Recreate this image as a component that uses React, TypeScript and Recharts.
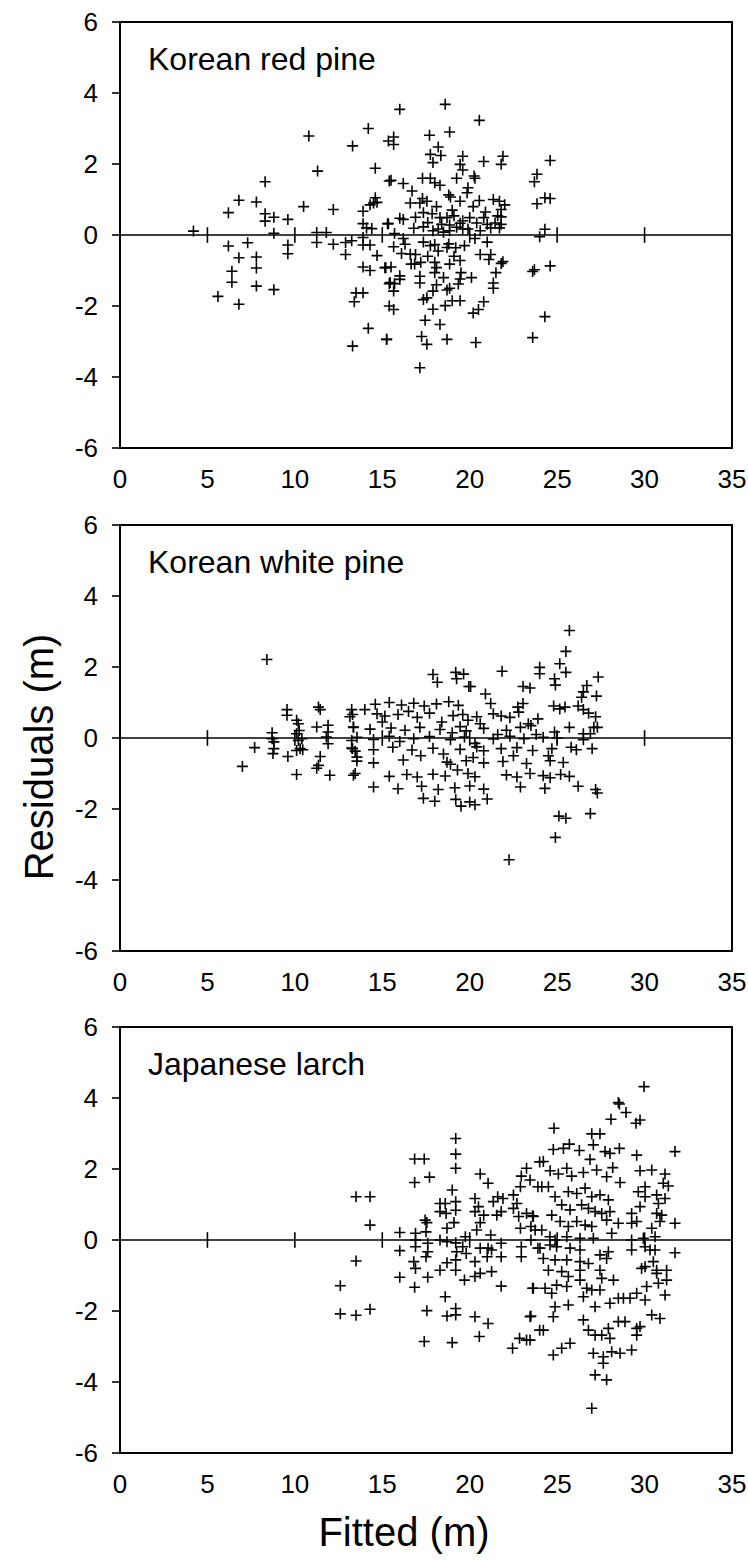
import React from 'react';
import {
  ScatterChart,
  Scatter,
  XAxis,
  YAxis,
  ReferenceLine,
  ReferenceArea,
} from 'recharts';

// residuals vs fitted heights
const redPine: [number, number][] = [
  [4.2, 0.11], [6.2, 0.63], [6.8, 0.98], [7.8, 0.93], [8.3, 1.5], [8.3, 0.6], [8.3, 0.39], [8.8, 0.5],
  [9.6, 0.44], [8.8, 0.05], [10.5, 0.8], [10.8, 2.79], [11.3, 1.8], [12.2, 0.72], [11.25, 0.07], [11.8, 0.07],
  [13.3, 2.51], [14.2, 3.0], [14.6, 1.88], [14.6, 1.05], [14.5, 0.9], [14.3, 0.85], [14.7, 0.92], [13.9, 0.67],
  [13.9, 0.32], [14.1, 0.2], [14.4, 0.18], [15.35, 2.65], [15.4, 1.52], [15.3, 0.32],
  [6.2, -0.31], [7.3, -0.22], [6.8, -0.64], [7.8, -0.62], [7.8, -0.93], [6.4, -1.02], [6.4, -1.33], [7.8, -1.44],
  [8.8, -1.54], [5.6, -1.73], [6.8, -1.95], [9.6, -0.28], [9.6, -0.53], [11.25, -0.21], [12.2, -0.26], [12.9, -0.21],
  [13.25, -0.16], [12.9, -0.55], [13.9, -0.07], [13.9, -0.28], [14.3, -0.28], [14.7, -0.58], [13.9, -0.9], [14.3, -1.0],
  [15.2, -0.92], [13.5, -1.63], [13.9, -1.63], [13.4, -1.88], [14.2, -2.63], [13.3, -3.13], [15.25, -2.94], [15.4, -1.37],
  [15.4, -2.0],
  [16.0, 3.54], [18.6, 3.68], [20.55, 3.23], [18.85, 2.9], [17.7, 2.81], [15.65, 2.76], [15.65, 2.55], [18.2, 2.48],
  [17.75, 2.27], [18.35, 2.24], [17.9, 2.04], [19.6, 2.22], [19.45, 1.99], [19.6, 1.83], [20.8, 2.07], [21.9, 2.22],
  [21.8, 1.99], [24.6, 2.1], [23.85, 1.71], [23.7, 1.5], [24.3, 1.05], [24.6, 1.03], [23.85, 0.88],
  [15.5, 1.54], [16.2, 1.45], [16.7, 1.24], [17.3, 1.6], [17.75, 1.6], [18.0, 1.47], [18.3, 1.4], [19.25, 1.6],
  [20.25, 1.66], [20.3, 1.6], [19.9, 1.33], [19.85, 1.19], [18.8, 1.13], [18.9, 1.07], [17.3, 1.03], [17.55, 0.95],
  [17.15, 0.9], [19.45, 0.95], [20.55, 0.97], [21.35, 1.0], [21.7, 0.95], [21.8, 0.72], [21.6, 0.54], [21.8, 0.51],
  [17.35, 0.63], [17.85, 0.6], [16.0, 0.47], [16.2, 0.44], [15.35, 0.32], [16.8, 0.19], [17.35, 0.23], [18.3, 0.49],
  [18.7, 0.49], [19.1, 0.54], [18.4, 0.3], [18.85, 0.28], [19.45, 0.33], [17.9, 0.12], [18.2, 0.17], [18.5, 0.08],
  [18.85, 0.12], [19.25, 0.22], [19.6, 0.17], [20.0, 0.49], [20.4, 0.34], [20.8, 0.49], [21.0, 0.3], [21.45, 0.34],
  [19.9, 0.17], [20.6, 0.12], [21.2, 0.2], [21.8, 0.3], [24.3, 0.16], [24.0, -0.05], [15.7, 0.04], [16.2, -0.1],
  [15.65, -0.33], [16.3, -0.26], [16.1, -0.52], [16.6, -0.54], [17.35, -0.2], [17.75, -0.3], [18.0, -0.27], [18.2, -0.45],
  [18.7, -0.35], [16.9, -0.55], [16.85, -0.82], [16.65, -0.82], [17.2, -0.77], [18.0, -0.77], [18.1, -0.92], [18.0, -1.06],
  [18.85, -0.82], [19.45, -0.72], [19.5, -1.06], [19.45, -1.24], [18.8, -0.25], [19.2, -0.36], [19.7, -0.3], [20.6, -0.55],
  [21.2, -0.55], [21.1, -0.69], [15.15, -0.92], [15.5, -0.9], [15.45, -1.34], [15.7, -1.37], [16.0, -1.25], [15.65, -1.58],
  [16.0, -1.15], [17.15, -1.16], [17.15, -1.35], [18.1, -1.4], [18.7, -1.55], [18.85, -1.5], [17.9, -1.58], [17.55, -1.77],
  [17.35, -1.82], [19.35, -1.38], [19.0, -1.85], [19.45, -1.85], [18.6, -1.99], [17.9, -2.09], [21.35, -1.35], [21.35, -1.5],
  [21.8, -0.8], [21.5, -1.06], [21.9, -0.75], [20.8, -1.88], [20.5, -2.1], [20.2, -2.2], [23.7, -0.98], [23.6, -1.03],
  [24.6, -0.87], [15.65, -2.1], [17.45, -2.4], [18.3, -2.52], [15.25, -2.94], [17.25, -2.86], [17.55, -3.08], [18.7, -2.94],
  [20.35, -3.03], [23.6, -2.89], [24.3, -2.3], [17.15, -3.74],
  [19.0, 0.7], [20.2, 0.8], [20.9, 0.65], [19.6, 0.4], [18.1, 0.8], [17.6, 0.35], [20.3, -0.1], [21.0, -0.2],
  [19.1, -0.6], [17.6, -0.6], [20.1, -1.2], [21.7, 0.2], [22.0, 0.85], [16.6, 0.9], [16.9, 0.5], [18.5, -1.2],
];

const whitePine: [number, number][] = [
  [8.4, 2.21], [7.0, -0.8], [7.7, -0.27], [8.7, 0.15], [8.7, -0.02], [8.8, -0.11], [8.8, -0.3], [8.75, -0.44],
  [9.55, 0.8], [9.55, 0.64], [9.6, -0.52], [10.1, 0.5], [10.2, 0.4], [10.25, 0.21], [10.1, 0.12], [10.2, -0.07],
  [10.3, -0.3], [10.1, -0.35], [10.4, -0.02], [10.45, -0.33], [10.1, -1.03], [11.35, 0.87], [11.45, 0.8], [11.25, 0.31],
  [11.9, 0.36], [11.9, 0.17], [11.8, 0.03], [11.9, -0.16], [11.45, -0.52], [11.35, -0.77], [11.25, -0.85], [12.0, -1.05],
  [13.25, 0.8], [13.3, 0.66], [13.35, 0.31], [13.25, -0.07], [13.3, -0.3], [13.45, -0.37], [13.55, -0.54], [13.35, -1.05],
  [25.7, 3.03], [25.5, 2.44], [25.15, 2.09], [25.5, 1.85], [24.0, 1.99], [24.0, 1.81], [21.85, 1.88], [24.85, 1.67],
  [24.9, 1.49], [27.35, 1.72], [27.25, 1.18], [26.7, 1.48], [26.5, 1.3], [26.4, 1.15], [17.9, 1.79], [18.15, 1.57],
  [19.2, 1.85], [19.65, 1.8], [19.25, 1.67], [19.95, 1.45], [20.05, 1.45], [23.05, 1.45], [23.45, 1.41], [20.9, 1.24],
  [24.8, 0.9], [25.15, 0.82], [25.45, 0.87], [26.2, 0.9], [26.5, 0.8], [22.75, 0.87], [22.8, 0.73], [23.05, 0.97],
  [23.9, 0.54], [23.35, 0.4], [23.5, 0.35], [25.7, 0.3], [26.5, 0.12], [26.9, 0.12], [27.1, 0.3], [27.3, 0.3],
  [24.85, 0.17], [25.1, -2.2], [25.5, -2.26], [26.9, -2.13], [24.9, -2.8], [22.25, -3.43], [27.3, -1.55],
  [14.6, 0.95], [15.4, 1.0], [16.1, 0.93], [16.8, 0.98], [17.4, 0.9], [18.1, 0.96], [18.8, 1.02], [19.35, 0.92], [21.2, 0.97],
  [13.15, 0.6], [14.7, 0.68], [15.15, 0.62], [15.9, 0.66], [17.0, 0.58], [17.7, 0.7], [19.05, 0.63], [19.6, 0.66],
  [20.4, 0.6], [21.35, 0.68], [21.8, 0.62], [22.3, 0.58],
  [13.35, 0.3], [14.3, 0.25], [15.5, 0.28], [16.3, 0.22], [17.15, 0.3], [18.3, 0.24], [19.45, 0.32], [19.8, 0.2],
  [20.8, 0.27], [22.1, 0.22], [22.9, 0.3],
  [13.55, 0.02], [14.5, -0.04], [15.4, 0.05], [16.8, -0.02], [17.7, 0.04], [18.9, -0.05], [19.7, 0.03], [21.35, -0.03],
  [22.3, 0.05], [23.1, -0.02], [24.2, 0.02],
  [13.25, -0.28], [14.5, -0.33], [15.6, -0.26], [16.7, -0.34], [17.9, -0.29], [19.45, -0.32], [20.4, -0.25], [20.8, -0.36],
  [21.8, -0.3], [22.7, -0.27], [23.6, -0.35], [24.7, -0.3], [25.8, -0.26], [26.1, -0.33],
  [13.55, -0.65], [14.5, -0.7], [16.2, -0.62], [18.7, -0.68], [18.9, -0.74], [19.8, -0.64], [20.8, -0.7], [21.9, -0.66],
  [23.25, -0.72], [24.6, -0.64], [25.35, -0.69],
  [13.45, -1.0], [15.4, -1.08], [16.4, -1.03], [17.0, -1.1], [17.9, -1.02], [18.6, -1.07], [19.9, -1.0], [20.3, -1.09],
  [22.1, -1.04], [22.7, -1.1], [23.45, -1.0], [24.2, -1.06], [24.6, -1.12], [25.2, -1.03], [25.7, -1.08],
  [14.5, -1.38], [15.9, -1.43], [17.25, -1.36], [18.2, -1.45], [19.15, -1.4], [20.0, -1.35], [20.8, -1.44], [22.9, -1.38],
  [24.3, -1.42], [26.2, -1.36], [27.2, -1.45],
  [17.35, -1.7], [18.0, -1.78], [19.2, -1.73], [20.0, -1.8], [21.0, -1.72], [19.5, -1.92], [20.3, -1.88],
  [18.4, 0.45], [19.0, 0.15], [19.9, 0.5], [20.3, -0.15], [20.6, 0.4], [21.6, 0.1], [17.2, -0.5], [16.0, -0.1],
  [15.0, 0.45], [18.5, -0.45], [19.3, -0.9], [20.2, -0.55], [14.0, 0.8], [16.5, 0.75], [22.5, -0.5], [23.8, 0.1],
  [25.0, 0.0], [24.5, -0.5], [26.5, -0.05], [27.0, -0.3], [27.2, 0.6], [26.8, 0.7],
];

const larch: [number, number][] = [
  [19.2, 2.86], [19.2, 2.42], [19.2, 2.02], [16.85, 2.28], [17.4, 2.28], [16.85, 1.62], [17.7, 1.77], [13.5, 1.22],
  [14.3, 1.22], [14.3, 0.42], [13.5, -0.59], [12.6, -1.29], [12.6, -2.08], [13.5, -2.12], [14.3, -1.95],
  [16.0, 0.21], [16.0, -0.3], [16.9, 0.19], [16.9, 0.0], [16.9, -0.19], [16.8, -0.61], [16.9, -0.8], [16.0, -1.05],
  [16.85, -1.33], [17.45, 0.56], [17.55, 0.49], [17.5, 0.23], [17.6, -0.09], [17.6, -0.33], [17.5, -0.47], [17.6, -1.05],
  [17.55, -1.99], [17.4, -2.86], [18.3, 1.03], [18.6, 1.03], [18.3, 0.8], [18.65, 0.75], [19.0, 1.41], [19.2, 1.08],
  [19.2, 0.84], [18.7, 0.33], [19.1, 0.49], [18.3, 0.0], [18.7, -0.05], [19.2, -0.08], [19.75, 0.09], [19.6, -0.19],
  [19.25, -0.33], [19.8, -0.38], [18.7, -0.64], [19.2, -0.56], [19.2, -0.85], [18.3, -0.85], [19.7, -1.13], [18.6, -1.6],
  [18.7, -2.14], [19.2, -1.93], [19.2, -2.11], [19.0, -2.89], [20.3, 1.17], [20.5, 0.94], [20.3, 0.8], [20.4, 0.28],
  [20.6, 0.49], [20.8, 0.7], [20.6, 1.86], [21.05, 1.6], [20.3, -0.61], [20.6, -0.94], [20.3, -1.03], [21.25, -0.89],
  [21.8, -1.3], [20.3, -2.16], [21.05, -2.35], [20.55, -2.72], [21.2, 0.14], [21.8, -0.09], [21.05, -0.23], [21.25, -0.28],
  [21.8, -0.47], [20.6, -0.23], [21.0, -0.47], [21.35, 1.08], [21.6, 1.22], [21.9, 1.17], [21.8, 0.8], [21.55, 0.7],
  [22.5, 1.27], [22.7, 1.03], [22.5, 0.89], [22.8, 0.66], [23.25, 0.75], [23.6, 0.68], [23.5, 0.38], [22.9, 0.33],
  [23.25, 2.02], [22.95, 1.8], [23.45, 1.69], [22.9, 1.5], [23.9, 1.5], [24.0, 2.2], [22.95, -0.19], [22.95, -0.47],
  [23.5, 0.0], [23.9, -0.23], [23.6, -1.36], [23.5, -2.14], [24.0, -2.54], [22.45, -3.05], [22.85, -2.77], [23.25, -2.82],
  [29.97, 4.32], [28.5, 3.87], [28.56, 3.83], [28.94, 3.59], [28.08, 3.4], [29.51, 3.29], [29.74, 3.38], [24.82, 3.15],
  [26.98, 2.99], [27.45, 2.99], [31.74, 2.49], [29.55, 2.39], [24.78, 2.55], [25.36, 2.58], [25.7, 2.7], [26.27, 2.52],
  [27.07, 2.68], [28.02, 2.44], [28.56, 2.58], [27.74, 2.49], [24.21, 2.21], [26.88, 2.27], [24.6, 1.95], [25.07, 1.86],
  [25.55, 2.02], [25.83, 1.8], [26.5, 1.9], [27.26, 1.97], [27.83, 1.78], [28.18, 2.04], [28.6, 1.62], [29.74, 1.95],
  [30.41, 1.97], [31.17, 1.86], [31.07, 1.6], [31.36, 1.52], [30.03, 1.5], [29.64, 1.36], [24.12, 1.5], [24.5, 1.5],
  [24.88, 1.22], [25.64, 1.36], [26.12, 1.31], [26.6, 1.46], [26.98, 1.22], [27.45, 1.27], [27.93, 1.13], [30.03, 1.22],
  [30.69, 1.27], [31.17, 1.17], [25.26, 0.99], [25.74, 0.85], [26.4, 0.99], [26.79, 0.89], [27.17, 0.8], [27.55, 0.75],
  [28.02, 0.8], [29.74, 0.94], [30.79, 1.03], [30.69, 0.75], [30.98, 0.7], [23.64, 0.66], [24.69, 0.7], [25.17, 0.52],
  [25.64, 0.38], [26.12, 0.52], [26.6, 0.42], [26.98, 0.38], [27.83, 0.56], [28.5, 0.47], [29.26, 0.75], [29.26, 0.47],
  [29.55, 0.52], [30.41, 0.33], [30.88, 0.52], [31.74, 0.47], [23.74, 0.28], [24.12, 0.28], [24.59, 0.09], [24.88, 0.0],
  [25.55, 0.09], [26.31, 0.05], [27.07, 0.05], [28.12, 0.19], [29.26, 0.0], [29.93, 0.05], [30.6, 0.09], [24.02, -0.23],
  [24.59, -0.14], [24.97, -0.19], [25.74, -0.23], [26.31, -0.28], [27.45, -0.42], [27.93, -0.33], [29.26, -0.28], [30.03, -0.19],
  [30.31, -0.28], [30.6, -0.28], [31.74, -0.36], [24.21, -0.52], [24.88, -0.56], [25.55, -0.56], [26.31, -0.61], [26.79, -0.66],
  [27.83, -0.52], [30.03, -0.75], [30.5, -0.61], [29.83, -0.8], [30.69, -0.85], [24.5, -0.85], [25.26, -0.89], [25.64, -1.03],
  [26.31, -0.85], [27.45, -0.85], [27.55, -1.08], [28.22, -1.13], [30.69, -0.94], [31.26, -0.85], [31.26, -1.13], [23.64, -1.36],
  [24.31, -1.36], [24.97, -1.27], [25.55, -1.31], [26.31, -1.13], [26.69, -1.36], [26.98, -1.41], [27.45, -1.41], [28.79, -1.64],
  [29.17, -1.64], [29.55, -1.5], [30.12, -1.31], [30.79, -1.22], [31.17, -1.55], [24.69, -1.5], [24.88, -1.88], [24.78, -2.16],
  [25.64, -1.83], [26.5, -1.6], [27.17, -1.88], [28.02, -1.78], [28.5, -1.64], [30.03, -1.69], [23.45, -2.16], [24.21, -2.54],
  [26.5, -2.25], [26.79, -2.54], [27.17, -2.68], [27.55, -2.68], [28.02, -2.77], [27.93, -2.49], [28.5, -2.3], [28.88, -2.3],
  [29.55, -2.49], [29.74, -2.44], [29.55, -2.68], [30.41, -2.11], [30.88, -2.21], [23.45, -2.82], [24.78, -3.24], [25.26, -3.05],
  [25.74, -2.91], [27.07, -3.19], [27.64, -3.29], [28.12, -3.15], [28.6, -3.19], [29.26, -3.1], [27.64, -3.47], [27.17, -3.8],
  [27.83, -3.94], [26.98, -4.74],
];

const X_TICKS = [0, 5, 10, 15, 20, 25, 30, 35];
const Y_TICKS = [-6, -4, -2, 0, 2, 4, 6];
const ZERO_LINE_TICKS = [5, 10, 15, 20, 25, 30];

const FONT = '"Liberation Sans", Arial, Helvetica, sans-serif';
const PLOT_H = 426;
const TOP_PAD = 20;

const panels = [
  { title: 'Korean red pine', points: redPine, plotTop: 22 },
  { title: 'Korean white pine', points: whitePine, plotTop: 524.7 },
  { title: 'Japanese larch', points: larch, plotTop: 1027 },
];

function PlusMark(props: any) {
  const { cx, cy } = props;
  if (cx == null || cy == null) return null;
  const r = 5.5;
  return (
    <path
      d={`M${cx - r},${cy}H${cx + r}M${cx},${cy - r}V${cy + r}`}
      stroke="#000"
      strokeWidth={1.6}
      fill="none"
    />
  );
}

function Panel({ points }: { points: [number, number][] }) {
  const data = points.map(([x, y]) => ({ x, y }));
  const tickStyle = { fontSize: 26, fill: '#000', fontFamily: FONT };
  return (
    <ScatterChart
      width={748}
      height={TOP_PAD + PLOT_H + 60}
      margin={{ top: TOP_PAD, right: 16, bottom: 0, left: 0 }}
    >
      <XAxis
        type="number"
        dataKey="x"
        domain={[0, 35]}
        ticks={X_TICKS}
        interval={0}
        axisLine={false}
        tickLine={false}
        tickSize={0}
        tickMargin={22}
        height={60}
        tick={tickStyle}
      />
      <YAxis
        type="number"
        dataKey="y"
        domain={[-6, 6]}
        ticks={Y_TICKS}
        interval={0}
        width={120}
        axisLine={{ stroke: '#000', strokeWidth: 2 }}
        tickLine={{ stroke: '#000', strokeWidth: 1.6 }}
        tickSize={8}
        tickMargin={14}
        tick={tickStyle}
      />
      <ReferenceArea x1={0} x2={35} y1={-6} y2={6} fill="none" stroke="#000" strokeWidth={2} />
      <ReferenceLine y={0} stroke="#000" strokeWidth={1.6} />
      {ZERO_LINE_TICKS.map((t) => (
        <ReferenceLine
          key={t}
          segment={[{ x: t, y: -0.22 }, { x: t, y: 0.22 }]}
          stroke="#000"
          strokeWidth={1.6}
        />
      ))}
      <Scatter data={data} shape={PlusMark} isAnimationActive={false} />
    </ScatterChart>
  );
}

export default function App() {
  return (
    <div
      style={{
        position: 'absolute',
        left: 0,
        top: 0,
        width: 748,
        height: 1564,
        background: '#fff',
        fontFamily: FONT,
      }}
    >
      {panels.map((p) => (
        <div key={p.title} style={{ position: 'absolute', left: 0, top: p.plotTop - TOP_PAD }}>
          <Panel points={p.points} />
        </div>
      ))}
      <svg
        width={748}
        height={1564}
        style={{ position: 'absolute', left: 0, top: 0, pointerEvents: 'none' }}
      >
        {panels.map((p) => (
          <text key={p.title} x={148} y={p.plotTop + 48} fontSize={32} fontFamily={FONT} fill="#000">
            {p.title}
          </text>
        ))}
        <text
          x={53}
          y={757}
          fontSize={40}
          fontFamily={FONT}
          fill="#000"
          textAnchor="middle"
          transform="rotate(-90, 53, 757)"
        >
          Residuals (m)
        </text>
        <text x={404} y={1546} fontSize={40} fontFamily={FONT} fill="#000" textAnchor="middle">
          Fitted (m)
        </text>
      </svg>
    </div>
  );
}
